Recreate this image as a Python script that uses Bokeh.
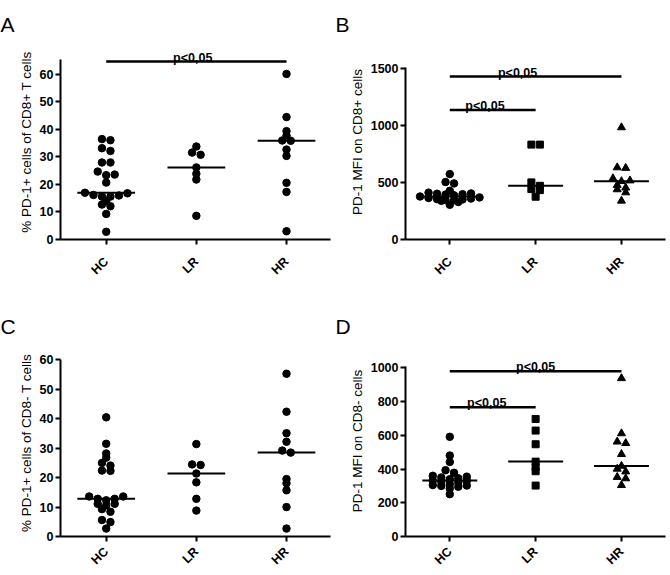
import statistics
from bokeh.plotting import figure
from bokeh.layouts import column, row
from bokeh.models import FixedTicker, Range1d
from bokeh.core.properties import value
from bokeh.embed import file_html
from bokeh.resources import INLINE

groups = ["HC", "LR", "HR"]

# Panel A: % PD-1+ cells of CD8+ T cells
a_hc = [36.5, 36.1, 33.2, 32.2, 28.0, 28.0, 24.7, 23.6, 23.4, 20.7, 17.0,
        16.8, 16.2, 16.0, 15.6, 15.6, 13.9, 12.7, 12.1, 9.3, 2.8]
a_lr = [33.8, 31.6, 30.8, 26.2, 23.9, 21.8, 8.6]
a_hr = [60.2, 44.5, 39.4, 37.8, 36.0, 35.9, 32.7, 30.4, 20.6, 17.3, 3.0]

# Panel B: PD-1 MFI on CD8+ cells
b_hc = [575, 505, 493, 428, 412, 405, 402, 398, 395, 388, 378,
        370, 365, 360, 355, 352, 348, 345, 340, 330, 305]
b_lr = [834, 834, 502, 472, 443, 434, 376]
b_hr = [985, 633, 628, 537, 518, 512, 478, 455, 440, 413, 340]

# Panel C: % PD-1+ cells of CD8- T cells
c_hc = [40.5, 31.5, 28.2, 26.8, 25.0, 24.1, 22.4, 22.3, 13.6, 13.6, 12.8,
        12.8, 12.3, 11.1, 11.1, 10.6, 9.3, 8.4, 5.6, 4.9, 2.7]
c_lr = [31.4, 24.5, 24.3, 21.4, 18.4, 12.8, 8.8]
c_hr = [55.3, 42.4, 35.1, 32.2, 29.2, 28.5, 19.5, 18.1, 15.7, 10.0, 2.7]

# Panel D: PD-1 MFI on CD8- cells
d_hc = [591, 480, 442, 393, 378, 360, 355, 350, 345, 340, 332,
        330, 325, 320, 310, 305, 302, 300, 295, 285, 251]
d_lr = [697, 628, 547, 444, 411, 387, 302]
d_hr = [938, 611, 562, 553, 488, 418, 401, 385, 352, 344, 304]

# significance bars: (group from, group to, bar height, label x)
a_sig = [(0, 2, 64.7, 0.96)]
b_sig = [(0, 2, 1432, 0.79), (0, 1, 1139, 0.41)]
c_sig = []
d_sig = [(0, 2, 980, 1.0), (0, 1, 767, 0.43)]

sig_text = "p<0,05"
a_ylabel = "% PD-1+ cells of CD8+ T cells"
b_ylabel = "PD-1 MFI on CD8+ cells"
c_ylabel = "% PD-1+ cells of CD8-  T cells"
d_ylabel = "PD-1 MFI on CD8- cells"
a_ticks = [0, 10, 20, 30, 40, 50, 60]
b_ticks = [0, 500, 1000, 1500]
c_ticks = [0, 10, 20, 30, 40, 50, 60]
d_ticks = [0, 200, 400, 600, 800, 1000]

FONT = "Liberation Sans"


def swarm(vals, ypx, xpx, gap=3.5, cap=4.0, s=8.5):
    idx = sorted(range(len(vals)), key=lambda i: vals[i])
    rows = []
    for i in idx:
        y = vals[i] * ypx
        if rows and y - vals[rows[-1][-1]] * ypx < gap and y - vals[rows[-1][0]] * ypx < cap:
            rows[-1].append(i)
        else:
            rows.append([i])
    offs = [0.0] * len(vals)
    for r in rows:
        n = len(r)
        slots = [(k - (n - 1) / 2.0) * s for k in range(n)]
        ordered = []
        lo, hi = 0, n - 1
        while lo <= hi:
            ordered.append(slots[lo])
            lo += 1
            if lo <= hi:
                ordered.append(slots[hi])
                hi -= 1
        desc = sorted(r, key=lambda i: -vals[i])
        for i, sl in zip(desc, ordered):
            offs[i] = sl / xpx
    return offs


def panel(letter, data, markers, ylabel, ticks, sig, w, h, L, R, T, B, xr, yr, ybound,
          title_standoff, xlab_standoff):
    p = figure(width=w, height=h, output_backend="svg", toolbar_location=None,
               x_range=Range1d(*xr), y_range=Range1d(*yr),
               min_border_left=L, min_border_right=R, min_border_top=T, min_border_bottom=B)
    p.outline_line_color = None
    p.xgrid.visible = False
    p.ygrid.visible = False
    p.background_fill_color = "white"
    p.border_fill_color = "white"
    fw = w - L - R
    fh = h - T - B
    xpx = fw / (xr[1] - xr[0])
    ypx = fh / (yr[1] - yr[0])
    for gi, (vals, mk) in enumerate(zip(data, markers)):
        offs = swarm(vals, ypx, xpx)
        xs = [gi + o for o in offs]
        size = 7.5 if mk == "circle" else (7 if mk == "square" else 8)
        p.scatter(xs, vals, marker=mk, size=size, fill_color="black", line_color="black")
        med = statistics.median(vals)
        p.segment(x0=[gi - 0.32], y0=[med], x1=[gi + 0.32], y1=[med],
                  line_color="black", line_width=2)
    for (g0, g1, yb, tx) in sig:
        p.segment(x0=[g0], y0=[yb], x1=[g1], y1=[yb], line_color="black", line_width=2.5)
        p.text(x=[tx], y=[yb], text=[sig_text], y_offset=-4, text_align="center",
               text_baseline="alphabetic", text_font=value(FONT), text_font_size="12.5px",
               text_font_style="bold", text_color="black")
    # panel letter as title
    p.title.text = letter
    p.title.align = "left"
    p.title.offset = -L
    p.title.text_font = FONT
    p.title.text_font_size = "21px"
    p.title.text_font_style = "normal"
    p.title.text_color = "black"
    p.title.standoff = title_standoff
    # axes
    for ax in (p.xaxis[0], p.yaxis[0]):
        ax.axis_line_width = 2
        ax.axis_line_color = "black"
        ax.major_tick_line_width = 2
        ax.major_tick_line_color = "black"
        ax.major_tick_out = 5
        ax.major_tick_in = 0
        ax.minor_tick_line_color = None
        ax.major_label_text_font = FONT
        ax.major_label_text_font_style = "bold"
        ax.major_label_text_color = "black"
    p.xaxis.ticker = FixedTicker(ticks=[0, 1, 2])
    p.xaxis.major_label_overrides = {i: g for i, g in enumerate(groups)}
    p.xaxis.major_label_orientation = 0.785398
    p.xaxis.major_label_text_font_size = "12.5px"
    p.xaxis.major_label_standoff = xlab_standoff
    p.yaxis.ticker = FixedTicker(ticks=ticks)
    p.yaxis.bounds = ybound
    p.yaxis.major_label_text_font_size = "12.5px"
    p.yaxis.major_label_standoff = 2
    p.yaxis.axis_label = ylabel
    p.yaxis.axis_label_text_font = FONT
    p.yaxis.axis_label_text_font_size = "13.5px"
    p.yaxis.axis_label_text_font_style = "normal"
    p.yaxis.axis_label_text_color = "black"
    p.yaxis.axis_label_standoff = 3
    return p


circ3 = ["circle", "circle", "circle"]
mixed = ["circle", "square", "triangle"]

pA = panel("A", [a_hc, a_lr, a_hr], circ3, a_ylabel, a_ticks, a_sig,
           335, 287, 60, 5, 44, 48, (-0.507, 2.488), (0, 70.9), (0, 65.5), 18, 15)
pB = panel("B", [b_hc, b_lr, b_hr], mixed, b_ylabel, b_ticks, b_sig,
           335, 287, 70, 5, 44, 48, (-0.516, 2.513), (0, 1714), (0, 1510), 18, 15)
pC = panel("C", [c_hc, c_lr, c_hr], circ3, c_ylabel, c_ticks, c_sig,
           335, 288, 60, 5, 58, 36, (-0.507, 2.488), (0, 64.9), (0, 60.2), 15, 8)
pD = panel("D", [d_hc, d_lr, d_hr], mixed, d_ylabel, d_ticks, d_sig,
           335, 288, 70, 5, 58, 36, (-0.516, 2.513), (0, 1132.5), (0, 1010), 15, 8)

layout = column(row(pA, pB), row(pC, pD))
open("out.html", "w").write(file_html(layout, INLINE))
